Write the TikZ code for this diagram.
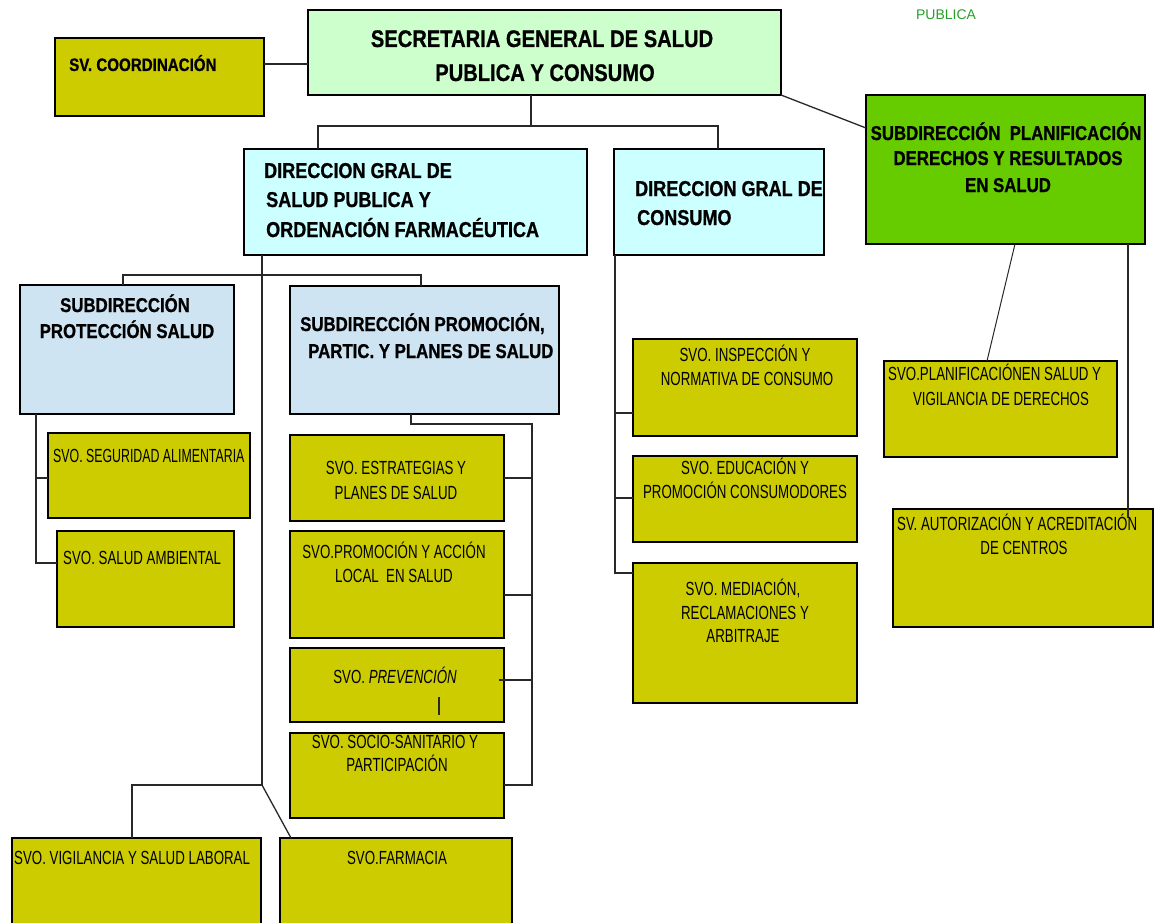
\documentclass[tikz,border=0pt]{standalone}
\usepackage{fontspec}
\setmainfont{Liberation Sans}
\newfontfamily\hb[FakeStretch=0.84,FakeBold=0.8]{Liberation Sans Bold}
\newfontfamily\hr[FakeStretch=0.70]{Liberation Sans}
\newfontfamily\hrn[FakeStretch=0.65]{Liberation Sans}
\newfontfamily\hi[FakeStretch=0.70]{Liberation Sans Italic}
\usetikzlibrary{calc}
\definecolor{cOlive}{RGB}{204,204,0}
\definecolor{cSec}{RGB}{204,255,204}
\definecolor{cCyan}{RGB}{204,255,255}
\definecolor{cBlue}{RGB}{207,228,242}
\definecolor{cGreen}{RGB}{102,204,0}
\definecolor{cPub}{RGB}{40,160,40}
\definecolor{cLine}{RGB}{40,40,40}
\begin{document}
\begin{tikzpicture}[x=1pt,y=-1pt,
  box/.style={draw=black,line width=1.6pt,inner sep=0pt,outer sep=0pt,anchor=north west},
  svo/.style={box,fill=cOlive},
  conn/.style={draw=cLine,line width=1.3pt},
  tl/.style={inner sep=0pt,anchor=base west},
  tc/.style={inner sep=0pt,anchor=base},
  fsec/.style={font=\hb\fontsize{24}{29}\selectfont},
  fdg/.style={font=\hb\fontsize{21.5}{26}\selectfont},
  fsub/.style={font=\hb\fontsize{20}{24}\selectfont},
  fcoord/.style={font=\hb\fontsize{18}{22}\selectfont},
  fsvo/.style={font=\hr\fontsize{19}{23}\selectfont},
  fsvon/.style={font=\hrn\fontsize{19}{23}\selectfont},
  fpub/.style={font=\fontsize{14}{17}\selectfont,text=cPub}]
\fill[white] (0,0) rectangle (1154,923);
\useasboundingbox (0,0) rectangle (1154,923);

% boxes
\node[box,fill=cSec,minimum width=473pt,minimum height=85pt] (sec) at (308,10) {};
\node[svo,minimum width=209pt,minimum height=78pt] (coord) at (55,38) {};
\node[box,fill=cCyan,minimum width=343pt,minimum height=106pt] (dgsp) at (244,149) {};
\node[box,fill=cCyan,minimum width=210pt,minimum height=106pt] (dgc) at (614,149) {};
\node[box,fill=cGreen,minimum width=279pt,minimum height=149pt] (splan) at (866,95) {};
\node[box,fill=cBlue,minimum width=214pt,minimum height=129pt] (sprot) at (20,285) {};
\node[box,fill=cBlue,minimum width=269pt,minimum height=128pt] (sprom) at (290,286) {};
\node[svo,minimum width=202pt,minimum height=85pt] (segal) at (48,433) {};
\node[svo,minimum width=177pt,minimum height=96pt] (samb) at (57,531) {};
\node[svo,minimum width=214pt,minimum height=86pt] (estr) at (290,435) {};
\node[svo,minimum width=214pt,minimum height=107pt] (pacc) at (290,531) {};
\node[svo,minimum width=214pt,minimum height=74pt] (prev) at (290,648) {};
\node[svo,minimum width=214pt,minimum height=85pt] (socio) at (290,733) {};
\node[svo,minimum width=249pt,minimum height=100pt] (vig) at (12,838) {};
\node[svo,minimum width=232pt,minimum height=100pt] (farm) at (280,838) {};
\node[svo,minimum width=224pt,minimum height=97pt] (insp) at (633,339) {};
\node[svo,minimum width=224pt,minimum height=86pt] (educ) at (633,456) {};
\node[svo,minimum width=224pt,minimum height=140pt] (med) at (633,563) {};
\node[svo,minimum width=233pt,minimum height=96pt] (splsvo) at (884,361) {};
\node[svo,minimum width=260pt,minimum height=118pt] (aut) at (893,509) {};

% helper coordinates
\coordinate (cy) at (0,64);
\coordinate (bus1) at (531,126);
\coordinate (bL) at (318,126);
\coordinate (bR) at (718,126);
\coordinate (t2) at (262,785);
\coordinate (p1) at (123,275);
\coordinate (p2) at (421,275);
\coordinate (q1) at (36,478);
\coordinate (q2) at (36,563);
\coordinate (r0) at (411,424);
\coordinate (r1) at (532,424);
\coordinate (r2) at (532,785);
\coordinate (rE) at (532,478);
\coordinate (rP) at (532,595);
\coordinate (rV) at (532,680);
\coordinate (rVe) at (499,680);
\coordinate (bar1) at (439,697);
\coordinate (bar2) at (439,715);
\coordinate (u1) at (132,785);
\coordinate (v1) at (615,413);
\coordinate (v2) at (615,498);
\coordinate (v3) at (615,573);
\coordinate (w1) at (1128,518);

% connectors
\draw[conn] (coord.east |- cy) -- (sec.west |- cy);
\draw[conn] (sec.south -| bus1) -- (bus1);
\draw[conn] (dgsp.north -| bL) -- (bL) -- (bR) -- (dgc.north -| bR);
\draw[conn] (sec.south east) -- ([yshift=-33pt]splan.north west);
\draw[conn] (dgsp.south -| t2) -- (t2);
\draw[conn] (sprot.north -| p1) -- (p1) -- (p2) -- (sprom.north -| p2);
\draw[conn] (sprot.south -| q1) -- (q2) -- (samb.west |- q2);
\draw[conn] (q1) -- (segal.west |- q1);
\draw[conn] (sprom.south -| r0) -- (r0) -- (r1) -- (r2) -- (socio.east |- r2);
\draw[conn] (rE) -- (estr.east |- rE);
\draw[conn] (rP) -- (pacc.east |- rP);
\draw[conn] (rV) -- (rVe);
\draw[conn,line width=1.6pt] (bar1) -- (bar2);
\draw[conn] (t2) -- (u1) -- (vig.north -| u1);
\draw[conn] (t2) -- ([xshift=11pt]farm.north west);
\draw[conn] (dgc.south -| v3) -- (v3) -- (med.west |- v3);
\draw[conn] (v1) -- (insp.west |- v1);
\draw[conn] (v2) -- (educ.west |- v2);
\draw[conn,line width=1pt] ([xshift=149pt]splan.south west) -- ([xshift=103pt]splsvo.north west);
\draw[conn] ([xshift=262pt]splan.south west) -- (w1);

% texts
\node[tc,fpub] (pub) at (946,20) {PUBLICA};
\node[tc,fsec] (sec1) at (542,47) {SECRETARIA GENERAL DE SALUD};
\node[tc,fsec] (sec2) at (545,81) {PUBLICA Y CONSUMO};
\node[tl,fcoord] (co1) at (69,71) {SV. COORDINACIÓN};
\node[tl,fdg] (dg1) at (264,178) {DIRECCION GRAL DE};
\node[tl,fdg] (dg2) at (266,207) {SALUD PUBLICA Y};
\node[tl,fdg] (dg3) at (266,237) {ORDENACIÓN FARMACÉUTICA};
\node[tl,fdg] (dc1) at (635,196) {DIRECCION GRAL DE};
\node[tl,fdg] (dc2) at (637,225) {CONSUMO};
\node[tc,fsub] (sp1) at (1006,140) {SUBDIRECCIÓN\ \ PLANIFICACIÓN};
\node[tc,fsub] (sp2) at (1008,165) {DERECHOS Y RESULTADOS};
\node[tc,fsub] (sp3) at (1008,192) {EN SALUD};
\node[tc,fsub] (pr1) at (125,312) {SUBDIRECCIÓN};
\node[tc,fsub] (pr2) at (127,338) {PROTECCIÓN SALUD};
\node[tl,fsub] (pm1) at (300,331) {SUBDIRECCIÓN PROMOCIÓN,};
\node[tl,fsub] (pm2) at (308,358) {PARTIC. Y PLANES DE SALUD};
\node[tl,fsvon] (sg1) at (53,462) {SVO. SEGURIDAD ALIMENTARIA};
\node[tl,fsvo] (sa1) at (63,564) {SVO. SALUD AMBIENTAL};
\node[tc,fsvo] (es1) at (396,474) {SVO. ESTRATEGIAS Y};
\node[tc,fsvo] (es2) at (396,499) {PLANES DE SALUD};
\node[tc,fsvo] (pa1) at (394,558) {SVO.PROMOCIÓN Y ACCIÓN};
\node[tc,fsvo] (pa2) at (394,582) {LOCAL\ \ EN SALUD};
\node[tc,fsvo] (pv1) at (395,683) {SVO. {\hi PREVENCIÓN}};
\node[tc,fsvo] (so1) at (395,748) {SVO. SOCIO-SANITARIO Y};
\node[tc,fsvo] (so2) at (397,771) {PARTICIPACIÓN};
\node[tl,fsvo] (vi1) at (14,864) {SVO. VIGILANCIA Y SALUD LABORAL};
\node[tc,fsvo] (fa1) at (397,864) {SVO.FARMACIA};
\node[tc,fsvo] (in1) at (745,361) {SVO. INSPECCIÓN Y};
\node[tc,fsvo] (in2) at (747,385) {NORMATIVA DE CONSUMO};
\node[tc,fsvo] (ed1) at (745,474) {SVO. EDUCACIÓN Y};
\node[tc,fsvo] (ed2) at (745,498) {PROMOCIÓN CONSUMODORES};
\node[tc,fsvo] (me1) at (743,595) {SVO. MEDIACIÓN,};
\node[tc,fsvo] (me2) at (745,619) {RECLAMACIONES Y};
\node[tc,fsvo] (me3) at (743,642) {ARBITRAJE};
\node[tl,fsvo] (pl1) at (888,380) {SVO.PLANIFICACIÓNEN SALUD Y};
\node[tc,fsvo] (pl2) at (1001,405) {VIGILANCIA DE DERECHOS};
\node[tl,fsvo] (au1) at (897,530) {SV. AUTORIZACIÓN Y ACREDITACIÓN};
\node[tc,fsvo] (au2) at (1024,554) {DE CENTROS};
\end{tikzpicture}
\end{document}
